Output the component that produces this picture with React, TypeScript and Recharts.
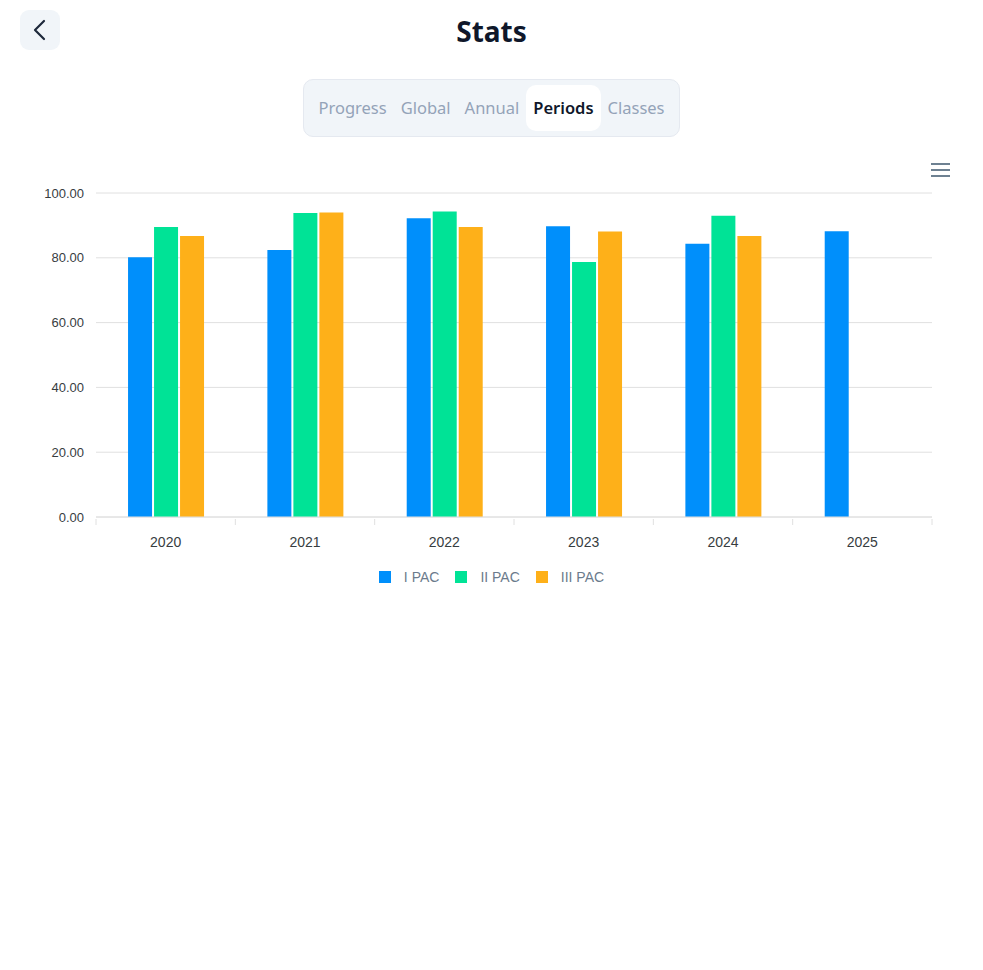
import React from 'react';
import { BarChart, Bar, XAxis, YAxis, CartesianGrid } from 'recharts';

const years = ['2020', '2021', '2022', '2023', '2024', '2025'];
const pac1 = [80.2, 82.4, 92.2, 89.7, 84.3, 88.2];
const pac2 = [89.5, 93.8, 94.3, 78.7, 93.0, null];
const pac3 = [86.7, 94.0, 89.5, 88.1, 86.7, null];
const yTicks = [0, 20, 40, 60, 80, 100];
const tabs = ['Progress', 'Global', 'Annual', 'Periods', 'Classes'];
const activeTab = 'Periods';

const series = [
  { key: 'pac1', name: 'I PAC', color: '#008FFB' },
  { key: 'pac2', name: 'II PAC', color: '#00E396' },
  { key: 'pac3', name: 'III PAC', color: '#FEB019' },
];

const data = years.map((year, i) => ({
  year,
  pac1: pac1[i],
  pac2: pac2[i],
  pac3: pac3[i],
}));

const CHART_W = 983;
const CHART_H = 600;
const MARGIN = { top: 193, right: 51, left: 0, bottom: 43 };
const Y_W = 96;
const halfBand = (CHART_W - MARGIN.left - MARGIN.right - Y_W) / years.length / 2;

const XTick = (props: any) => {
  const { x, y, payload, index } = props;
  const last = index === years.length - 1;
  return (
    <g>
      <line x1={x - halfBand} x2={x - halfBand} y1={y} y2={y + 6} stroke="#e0e0e0" />
      {last && <line x1={x + halfBand} x2={x + halfBand} y1={y} y2={y + 6} stroke="#e0e0e0" />}
      <text x={x} y={y + 28} textAnchor="middle" fontSize={14} fill="#373d3f" fontFamily="'Liberation Sans', Arial, sans-serif">
        {payload.value}
      </text>
    </g>
  );
};

const uiFont = "'Noto Sans', 'Open Sans', sans-serif";

export default function App() {
  return (
    <div style={{ position: 'absolute', left: 0, top: 0, width: 983, height: 970, background: '#fff', fontFamily: uiFont }}>
      {/* back button */}
      <div style={{ position: 'absolute', left: 20, top: 10, width: 40, height: 40, borderRadius: 9, background: '#f1f5f9' }}>
        <svg width={40} height={40}>
          <polyline points="24,11 15,20 24,29" fill="none" stroke="#1e293b" strokeWidth={2.2} strokeLinecap="round" strokeLinejoin="round" />
        </svg>
      </div>
      <div style={{ position: 'absolute', left: 0, top: 11, width: 983, textAlign: 'center', fontSize: 28, fontWeight: 700, color: '#0f172a', lineHeight: '40px' }}>
        Stats
      </div>

      {/* tabs */}
      <div style={{ position: 'absolute', left: 303, top: 79, width: 377, height: 58, boxSizing: 'border-box', border: '1px solid #e5e9f0', borderRadius: 10, background: '#f1f5f9', display: 'flex', alignItems: 'center', justifyContent: 'center' }}>
        {tabs.map((t) => (
          <div
            key={t}
            style={{
              padding: '0 7px',
              height: 46,
              lineHeight: '46px',
              borderRadius: 10,
              fontSize: 16.5,
              background: t === activeTab ? '#fff' : 'transparent',
              color: t === activeTab ? '#0f172a' : '#94a3b8',
              fontWeight: t === activeTab ? 600 : 400,
            }}
          >
            {t}
          </div>
        ))}
      </div>

      {/* menu icon */}
      <svg style={{ position: 'absolute', left: 928, top: 160 }} width={26} height={22}>
        <rect x={3} y={3} width={19} height={2} fill="#6E8192" />
        <rect x={3} y={9} width={19} height={2} fill="#6E8192" />
        <rect x={3} y={15} width={19} height={2} fill="#6E8192" />
      </svg>

      <div style={{ position: 'absolute', left: 0, top: 0 }}>
        <BarChart width={CHART_W} height={CHART_H} data={data} margin={MARGIN} barCategoryGap="23%" barGap={2}>
          <CartesianGrid vertical={false} stroke="#e0e0e0" />
          <XAxis
            dataKey="year"
            stroke="#e0e0e0"
            tickLine={false}
            tickSize={0}
            tick={<XTick />}
            height={40}
            interval={0}
          />
          <YAxis
            width={Y_W}
            domain={[0, 100]}
            ticks={yTicks}
            axisLine={false}
            tickLine={false}
            tickSize={0}
            tickMargin={12}
            tickFormatter={(v: number) => v.toFixed(2)}
            tick={{ fontSize: 13, fill: '#373d3f', fontFamily: "'Liberation Sans', Arial, sans-serif" }}
          />
          {series.map((s) => (
            <Bar key={s.key} dataKey={s.key} name={s.name} fill={s.color} isAnimationActive={false} />
          ))}
        </BarChart>
      </div>

      {/* legend */}
      <div style={{ position: 'absolute', left: 0, top: 568, width: 983, display: 'flex', justifyContent: 'center', fontFamily: "'Liberation Sans', Arial, sans-serif", fontSize: 14, color: '#6b7b8c' }}>
        {series.map((s) => (
          <div key={s.key} style={{ display: 'flex', alignItems: 'center', margin: '0 8px', height: 18 }}>
            <span style={{ width: 12, height: 12, background: s.color, display: 'inline-block', marginRight: 13 }} />
            <span>{s.name}</span>
          </div>
        ))}
      </div>
    </div>
  );
}
